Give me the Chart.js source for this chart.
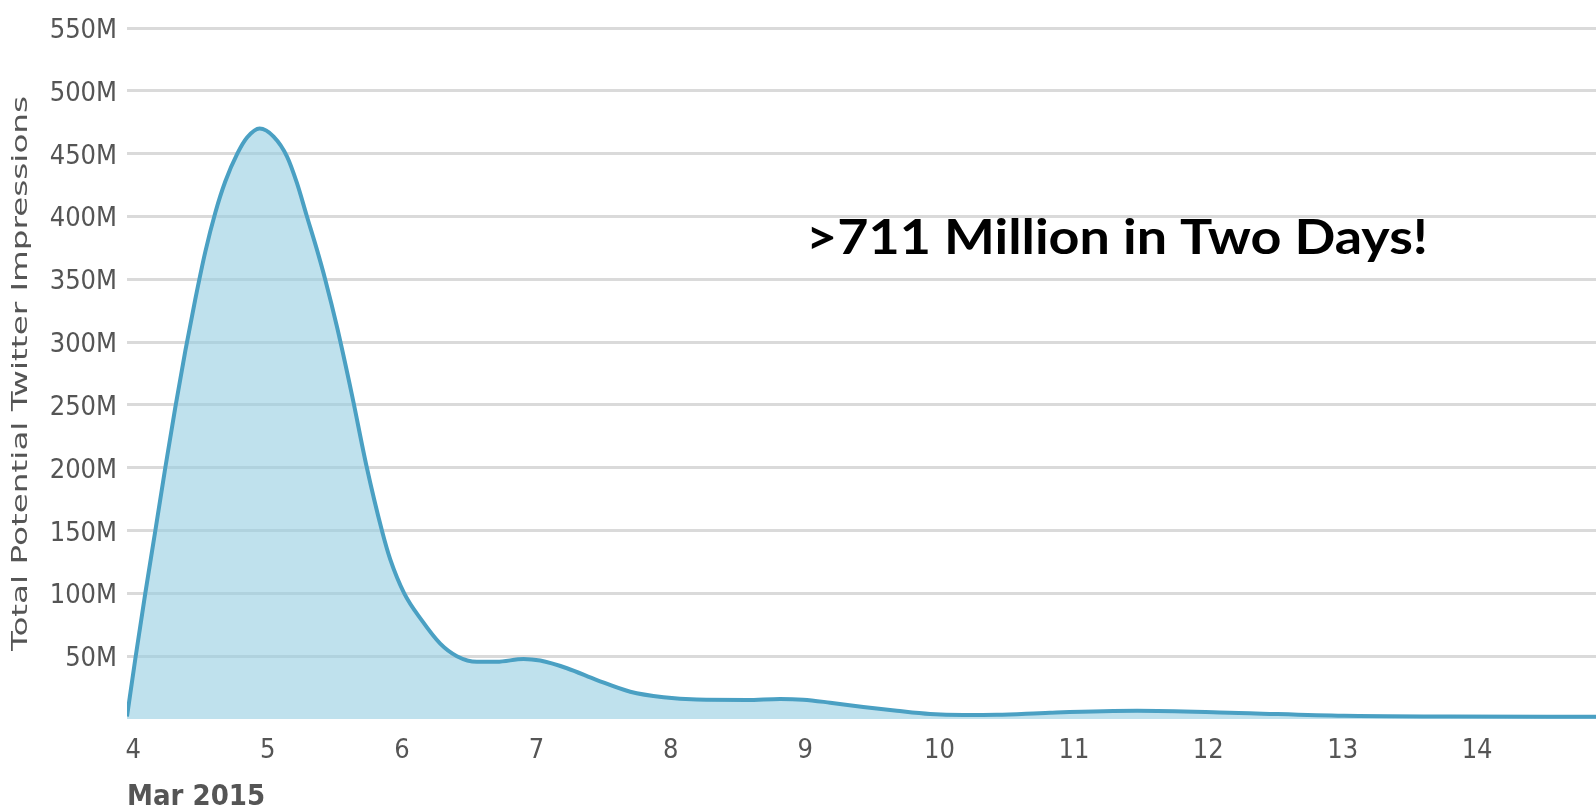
<!DOCTYPE html>
<html>
<head>
<meta charset="utf-8">
<script src="https://cdn.jsdelivr.net/npm/chart.js@4"></script>
<style>
  html, body { margin: 0; padding: 0; background: #ffffff; }
  canvas { display: block; }
</style>
</head>
<body>
<canvas id="impressionsChart" width="1596" height="812"></canvas>
<script>
// Day of March 2015 (fractional) and total potential impressions (millions)
const days = [3.953, 4.015, 4.089, 4.164, 4.238, 4.3125, 4.387, 4.461, 4.536, 4.610,
              4.685, 4.774, 4.848, 4.940, 5.044, 5.144, 5.218, 5.292, 5.367, 5.429,
              5.516, 5.627, 5.734, 5.850, 5.912, 6.016, 6.147, 6.284, 6.408, 6.557,
              6.705, 6.904, 7.028, 7.227, 7.450, 7.698, 7.946, 8.194, 8.566, 8.814,
              8.985, 9.186, 9.432, 9.682, 9.930, 10.176, 10.426, 10.82, 11.47, 12.16,
              13.01, 13.8, 14.885];
const impressions = [2, 48, 100, 150, 200, 248, 293, 334, 372, 403,
                     428, 450, 463, 470, 463.6, 447.7, 426.5, 400, 373.4, 349.5,
                     312, 258, 202, 150, 127, 100, 78.5, 60, 50, 45.5,
                     45.5, 47.8, 46.5, 40.4, 31, 21.7, 17.3, 15.5, 15.2, 16,
                     15.4, 13, 9.6, 6.5, 3.9, 3.1, 3.3, 5, 6.5, 5,
                     2.5, 2, 1.8];

const dayTicks = [4, 5, 6, 7, 8, 9, 10, 11, 12, 13, 14];
const impressionTicks = [50, 100, 150, 200, 250, 300, 350, 400, 450, 500, 550];

const yAxisTitle = 'Total Potential Twitter Impressions';
const xAxisTitle = 'Mar 2015';
const headline = '>711 Million in Two Days!';

const axisFont = '"DejaVu Sans Condensed", "DejaVu Sans", sans-serif';
const axisColor = '#555555';

// Rotated axis title on the left, stretched along its run
const yTitlePlugin = {
  id: 'yTitle',
  afterDraw(chart) {
    const { ctx, chartArea } = chart;
    ctx.save();
    ctx.translate(22, (chartArea.top + chartArea.bottom) / 2);
    ctx.rotate(-Math.PI / 2);
    ctx.font = '21px "DejaVu Sans", sans-serif';
    const w = ctx.measureText(yAxisTitle).width;
    ctx.scale(555 / w, 1);
    ctx.fillStyle = axisColor;
    ctx.textAlign = 'center';
    ctx.textBaseline = 'middle';
    ctx.fillText(yAxisTitle, 0, 0);
    ctx.restore();
  }
};

// Bold headline inside the plot
const headlinePlugin = {
  id: 'headline',
  afterDatasetsDraw(chart) {
    const { ctx } = chart;
    ctx.save();
    ctx.font = 'bold 48px Lato, "Open Sans", sans-serif';
    const w = ctx.measureText(headline).width;
    ctx.translate(806, 254);
    ctx.scale(622 / w, 1);
    ctx.fillStyle = '#000000';
    ctx.textAlign = 'left';
    ctx.textBaseline = 'alphabetic';
    ctx.fillText(headline, 0, 0);
    ctx.restore();
  }
};

new Chart(document.getElementById('impressionsChart'), {
  type: 'line',
  data: {
    datasets: [{
      data: days.map((d, i) => ({ x: d, y: impressions[i] })),
      borderColor: '#4aa0c3',
      borderWidth: 4,
      backgroundColor: 'rgba(148, 205, 225, 0.6)',
      fill: 'origin',
      pointRadius: 0,
      cubicInterpolationMode: 'monotone'
    }]
  },
  options: {
    responsive: false,
    animation: false,
    devicePixelRatio: 1,
    layout: { padding: { top: 28, right: 0, bottom: 0, left: 0 } },
    plugins: { legend: { display: false }, tooltip: { enabled: false } },
    scales: {
      x: {
        type: 'linear',
        min: 3.953,
        max: 14.885,
        afterBuildTicks: s => { s.ticks = dayTicks.map(v => ({ value: v })); },
        afterFit: s => { s.height = 93; },
        grid: { display: false },
        border: { display: false },
        ticks: {
          padding: 8,
          color: axisColor,
          autoSkip: false,
          maxRotation: 0,
          font: { family: axisFont, size: 27 }
        },
        title: {
          display: true,
          text: xAxisTitle,
          align: 'start',
          color: axisColor,
          font: { family: axisFont, size: 29, weight: 'bold', lineHeight: 1 },
          padding: { top: 0, bottom: 0 }
        }
      },
      y: {
        min: 0,
        max: 550,
        afterBuildTicks: s => { s.ticks = impressionTicks.map(v => ({ value: v })); },
        afterFit: s => { s.width = 127; },
        grid: { color: '#dadada', lineWidth: 3, drawTicks: false },
        border: { display: false },
        ticks: {
          padding: 10,
          labelOffset: 3,
          color: axisColor,
          font: { family: axisFont, size: 27 },
          callback: v => v + 'M'
        }
      }
    }
  },
  plugins: [yTitlePlugin, headlinePlugin]
});
</script>
</body>
</html>
